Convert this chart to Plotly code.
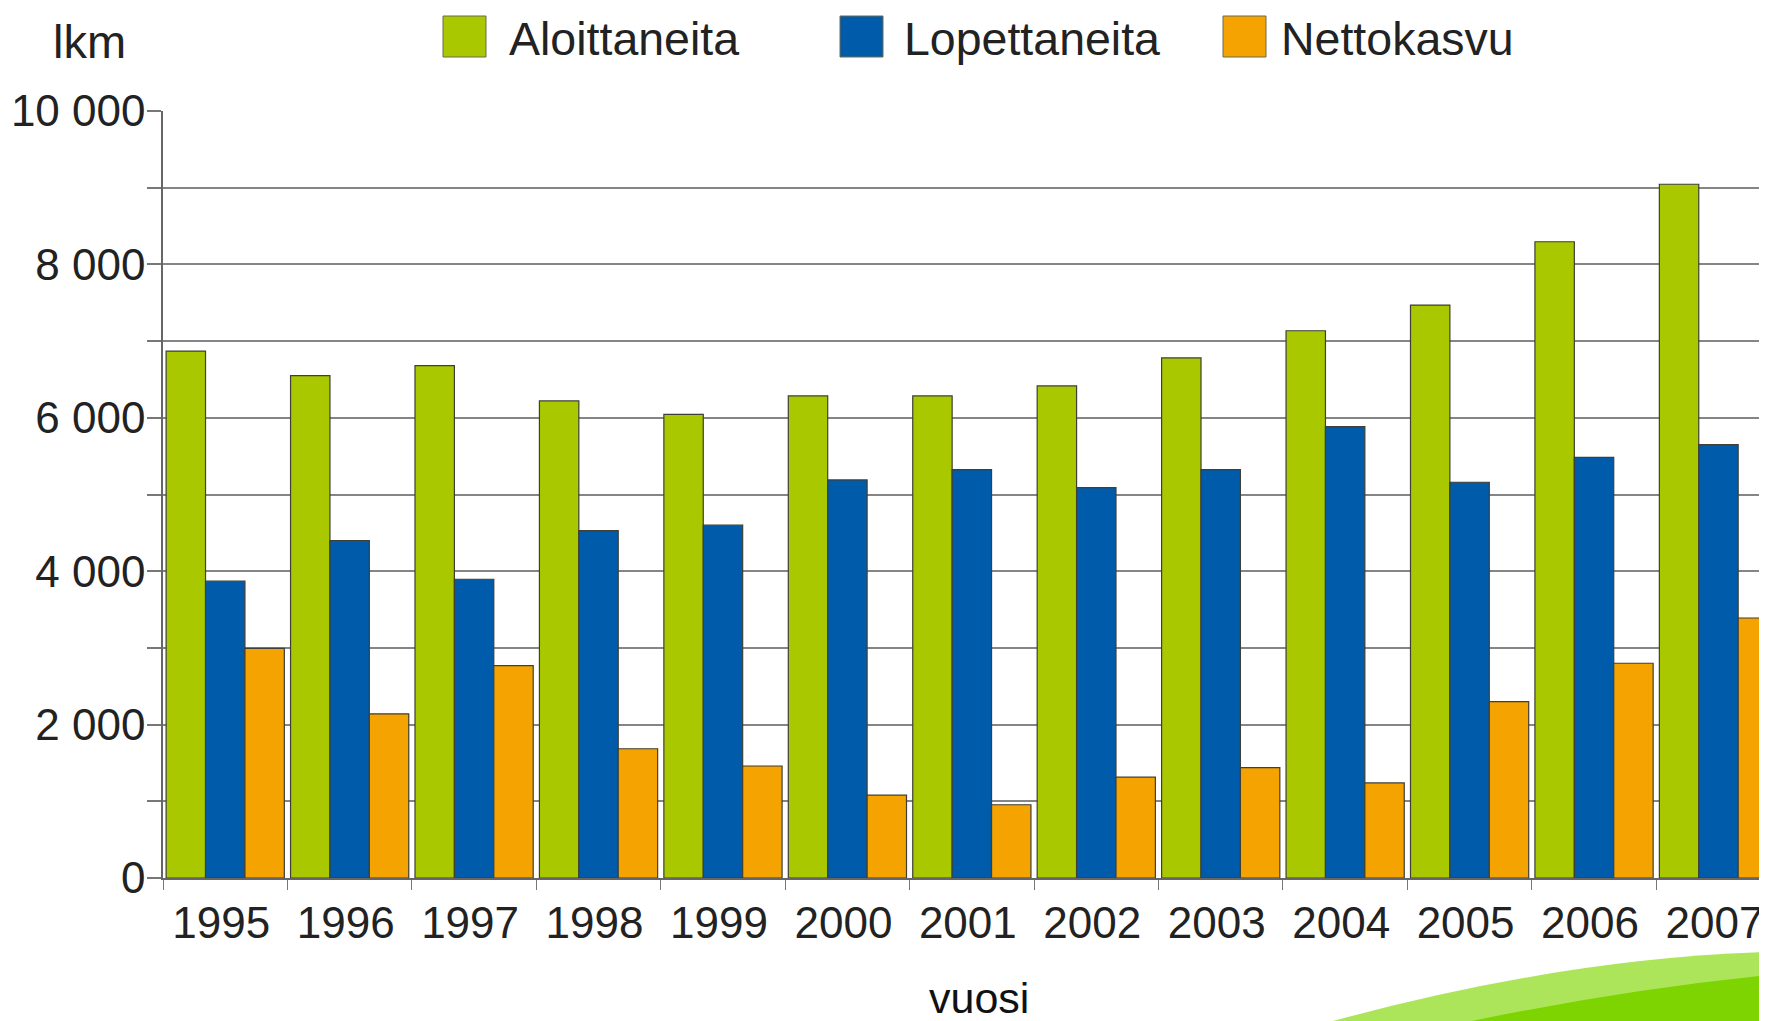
import plotly.graph_objects as go

# ---- data ----
years = ["1995", "1996", "1997", "1998", "1999", "2000", "2001",
         "2002", "2003", "2004", "2005", "2006", "2007"]
aloittaneita = [6870, 6550, 6680, 6220, 6045, 6285, 6285, 6415, 6780, 7135, 7470, 8295, 9045]
lopettaneita = [3870, 4400, 3895, 4530, 4600, 5190, 5325, 5090, 5325, 5885, 5160, 5485, 5650]
nettokasvu = [2995, 2140, 2770, 1685, 1460, 1080, 955, 1315, 1440, 1240, 2300, 2800, 3390]

series_names = ["Aloittaneita", "Lopettaneita", "Nettokasvu"]
series_colors = ["#A9C800", "#005BAA", "#F5A300"]

y_tickvals = [0, 2000, 4000, 6000, 8000, 10000]
y_ticktext = ["0", "2 000", "4 000", "6 000", "8 000", "10 000"]
y_minor_vals = [1000, 3000, 5000, 7000, 9000]

# ---- geometry (screen pixels; page body has an 8px margin) ----
OFF = 8
SW, SH = 1767, 1021
W, H = SW - OFF, SH - OFF
# plot area in screen coords
SL, ST, SR, SB = 163, 111, 1767, 878
L, T = SL - OFF, ST - OFF
R, B = SW - SR, SH - SB
PW, PH = SR - SL, SB - ST

def px(x):
    return (x - SL) / PW

def py(y):
    return (SB - y) / PH

FONT = "Liberation Sans, Arial, sans-serif"
TXT = "#222222"

fig = go.Figure()
for name, vals, col in zip(series_names, [aloittaneita, lopettaneita, nettokasvu], series_colors):
    fig.add_trace(go.Bar(
        x=years, y=vals, name=name,
        marker=dict(color=col, line=dict(color="#3f3f35", width=1.2)),
        showlegend=False,
    ))

shapes = []
# decorative swoosh bottom-right
shapes.append(dict(
    type="path", xref="paper", yref="paper", layer="above",
    path=f"M {px(1322)},{py(1024)} Q {px(1560)},{py(958)} {px(1770)},{py(952)} "
         f"L {px(1770)},{py(1024)} Z",
    fillcolor="#ADE55A", line=dict(width=0)))
shapes.append(dict(
    type="path", xref="paper", yref="paper", layer="above",
    path=f"M {px(1457)},{py(1024)} Q {px(1620)},{py(990)} {px(1770)},{py(975)} "
         f"L {px(1770)},{py(1024)} Z",
    fillcolor="#7DD400", line=dict(width=0)))

annotations = []
# manual legend
legend_items = [(443, 507), (840, 902), (1223, 1279)]
for (bx, tx), name, col in zip(legend_items, series_names, series_colors):
    shapes.append(dict(type="rect", xref="paper", yref="paper",
                       x0=px(bx), x1=px(bx + 43), y0=py(57), y1=py(16),
                       fillcolor=col, line=dict(color="#6a6a50", width=1)))
    annotations.append(dict(xref="paper", yref="paper", x=px(tx), y=py(39),
                            text=name, showarrow=False, xanchor="left", yanchor="middle",
                            font=dict(family=FONT, size=46.5, color=TXT)))

annotations.append(dict(xref="paper", yref="paper", x=px(89), y=py(41), text="lkm",
                        showarrow=False, xanchor="center", yanchor="middle",
                        font=dict(family=FONT, size=47, color=TXT)))
annotations.append(dict(xref="paper", yref="paper", x=px(979), y=py(998), text="vuosi",
                        showarrow=False, xanchor="center", yanchor="middle",
                        font=dict(family=FONT, size=43, color="#111111")))

fig.update_layout(
    width=W, height=H,
    margin=dict(l=L, r=R, t=T, b=B, pad=0, autoexpand=False),
    paper_bgcolor="white", plot_bgcolor="white",
    barmode="group", bargap=0.05, bargroupgap=0,
    font=dict(family=FONT, color=TXT),
    shapes=shapes, annotations=annotations,
    showlegend=False,
)
fig.update_xaxes(
    type="category", range=[-0.5, 12.39],
    showline=True, linecolor="#666666", linewidth=1.5,
    ticks="outside", tickson="boundaries", ticklen=10, tickcolor="#777777",
    tickfont=dict(family=FONT, size=44, color=TXT),
    ticklabelstandoff=5, ticklabelshift=-4,
    showgrid=False,
)
fig.update_yaxes(
    range=[0, 10000],
    tickmode="array", tickvals=y_tickvals, ticktext=y_ticktext,
    showline=True, linecolor="#666666", linewidth=1.5,
    ticks="outside", ticklen=14, tickcolor="#777777", tickwidth=1.5,
    tickfont=dict(family=FONT, size=44, color=TXT),
    ticklabelstandoff=-7,
    showgrid=True, gridcolor="#858585", gridwidth=1.5,
    zeroline=False,
    minor=dict(tickmode="array", tickvals=y_minor_vals, ticks="outside", ticklen=14,
               tickcolor="#777777", tickwidth=1.5,
               showgrid=True, gridcolor="#858585", gridwidth=1.5),
)

fig.write_html("out.html")
